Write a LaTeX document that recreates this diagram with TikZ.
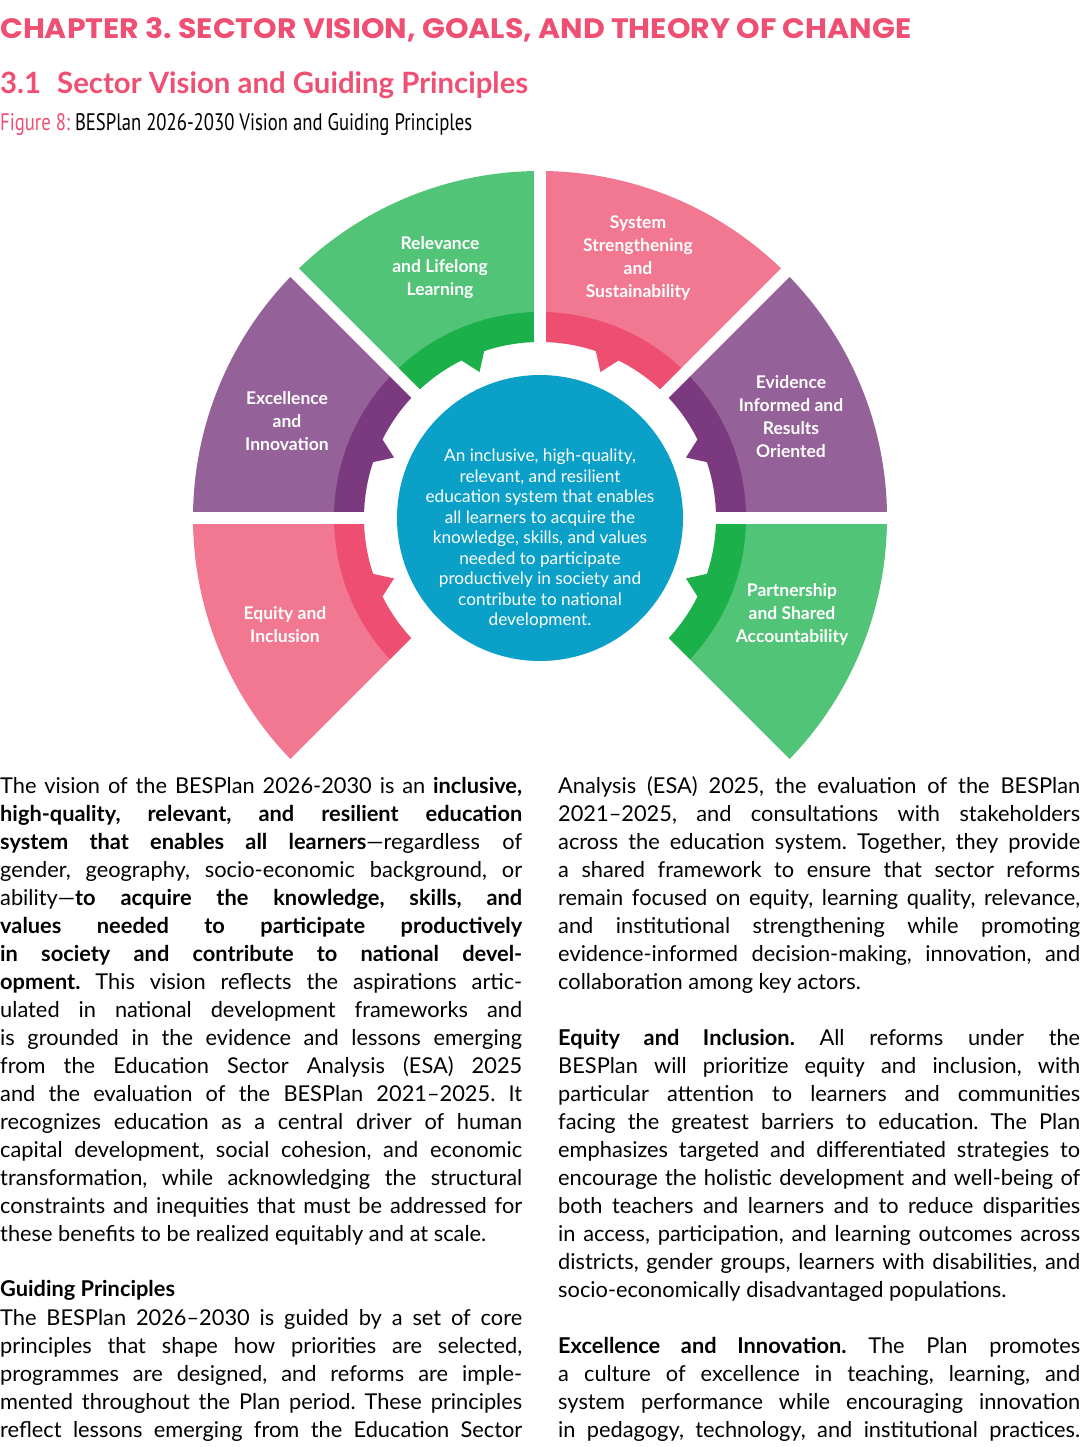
\documentclass[tikz,border=0pt]{standalone}
\usepackage{fontspec}
\usepackage{graphicx}
\setmainfont{Lato}
\newfontfamily\headfont{Poppins}
\newfontfamily\figfont{PT Sans}
\definecolor{Head}{HTML}{EF4F72}
\definecolor{GreenL}{HTML}{52C477}
\definecolor{GreenD}{HTML}{1BB04A}
\definecolor{PinkL}{HTML}{F27891}
\definecolor{PinkD}{HTML}{EE4E70}
\definecolor{PurpL}{HTML}{946198}
\definecolor{PurpD}{HTML}{7B3A80}
\definecolor{Vision}{HTML}{0AA0C8}
\frenchspacing
\newcommand\jline[1]{\makebox[522pt][s]{#1}}
% one principle: start angle, light colour, dark colour
\newcommand\petal[3]{%
  \fill[#2] (#1:205) arc[start angle=#1, end angle=#1+45, radius=205pt]
    -- ({#1+45}:347) arc[start angle=#1+45, end angle=#1, radius=347pt] -- cycle;
  \fill[#3] (#1:176) -- (#1:206) arc[start angle=#1, end angle=#1+45, radius=206pt]
    -- ({#1+45}:176) arc[start angle=#1+45, end angle=#1+26.5, radius=176pt]
    -- ({#1+22.5}:158) -- ({#1+18.5}:176)
    arc[start angle=#1+18.5, end angle=#1, radius=176pt] -- cycle;
}
\begin{document}
\begin{tikzpicture}[
  x=1pt,y=1pt,
  every node/.style={inner sep=0pt},
  label/.style={text=white,align=center,font=\fontsize{17.5}{23}\selectfont\bfseries},
  body/.style={anchor=base west,font=\fontsize{21.8}{28}\selectfont},
  ]
  \useasboundingbox (0,0) rectangle (1080,-1447);
  % headings
  \node[anchor=base west,text=Head] (chapter) at (0,-39)
    {\resizebox{911pt}{21pt}{\headfont\bfseries CHAPTER 3. SECTOR VISION, GOALS, AND THEORY OF CHANGE}};
  \node[anchor=base west,text=Head] (section) at (0,-94)
    {\resizebox{528pt}{!}{\bfseries 3.1\hspace{0.3em} Sector Vision and Guiding Principles}};
  \node[anchor=base west] (figure) at (0,-131)
    {\resizebox{472pt}{17pt}{\figfont\textcolor{Head}{Figure 8:} BESPlan 2026-2030 Vision and Guiding Principles}};
  % the wheel
  \begin{scope}[shift={(540,-518)}]
    \petal{-45}{GreenL}{GreenD}
    \petal{0}{PurpL}{PurpD}
    \petal{45}{PinkL}{PinkD}
    \petal{90}{GreenL}{GreenD}
    \petal{135}{PurpL}{PurpD}
    \petal{180}{PinkL}{PinkD}
    \foreach \a in {-45,0,...,225}
      \draw[white,line width=12pt] (0,0) -- (\a:360);
    \fill[Vision] (0,0) circle[radius=143pt];
  \end{scope}
  \node[label] (relevance) at (440,-268) {Relevance\\and Lifelong\\Learning};
  \node[label] (system) at (638,-258) {System\\Strengthening\\and\\Sustainability};
  \node[label] (excellence) at (287,-421) {Excellence\\and\\Innovation};
  \node[label] (evidence) at (791,-417) {Evidence\\Informed and\\Results\\Oriented};
  \node[label] (equity) at (285,-625) {Equity and\\Inclusion};
  \node[label] (partnership) at (792,-614) {Partnership\\and Shared\\Accountability};
  \node[text=white,align=center,font=\fontsize{17.2}{20.5}\selectfont] (vision) at (540,-539)
    {An inclusive, high-quality,\\relevant, and resilient\\education system that enables\\all learners to acquire the\\knowledge, skills, and values\\needed to participate\\productively in society and\\contribute to national\\development.};
  % left column
  \foreach \t [count=\i] in {
    {The vision of the BESPlan 2026-2030 is an \textbf{inclusive,}},
    {\textbf{high-quality, relevant, and resilient education}},
    {\textbf{system that enables all learners}---regardless of},
    {gender, geography, socio-economic background, or},
    {ability---\textbf{to acquire the knowledge, skills, and}},
    {\textbf{values needed to participate productively}},
    {\textbf{in society and contribute to national devel-}},
    {\textbf{opment.} This vision reflects the aspirations artic-},
    {ulated in national development frameworks and},
    {is grounded in the evidence and lessons emerging},
    {from the Education Sector Analysis (ESA) 2025},
    {and the evaluation of the BESPlan 2021--2025. It},
    {recognizes education as a central driver of human},
    {capital development, social cohesion, and economic},
    {transformation, while acknowledging the structural},
    {constraints and inequities that must be addressed for}}
    \node[body] at (0,{-793-28*(\i-1)}) {\jline{\t}};
  \node[body] (visionend) at (0,-1241) {these benefits to be realized equitably and at scale.};
  \node[body] (guiding) at (0,-1296) {\textbf{Guiding Principles}};
  \foreach \t [count=\i] in {
    {The BESPlan 2026--2030 is guided by a set of core},
    {principles that shape how priorities are selected,},
    {programmes are designed, and reforms are imple-},
    {mented throughout the Plan period. These principles},
    {reflect lessons emerging from the Education Sector}}
    \node[body] at (0,{-1325-28*(\i-1)}) {\jline{\t}};
  % right column
  \foreach \t [count=\i] in {
    {Analysis (ESA) 2025, the evaluation of the BESPlan},
    {2021--2025, and consultations with stakeholders},
    {across the education system. Together, they provide},
    {a shared framework to ensure that sector reforms},
    {remain focused on equity, learning quality, relevance,},
    {and institutional strengthening while promoting},
    {evidence-informed decision-making, innovation, and}}
    \node[body] at (558,{-793-28*(\i-1)}) {\jline{\t}};
  \node[body] (guidingend) at (558,-989) {collaboration among key actors.};
  \foreach \t [count=\i] in {
    {\textbf{Equity and Inclusion.} All reforms under the},
    {BESPlan will prioritize equity and inclusion, with},
    {particular attention to learners and communities},
    {facing the greatest barriers to education. The Plan},
    {emphasizes targeted and differentiated strategies to},
    {encourage the holistic development and well-being of},
    {both teachers and learners and to reduce disparities},
    {in access, participation, and learning outcomes across},
    {districts, gender groups, learners with disabilities, and}}
    \node[body] at (558,{-1045-28*(\i-1)}) {\jline{\t}};
  \node[body] (equityend) at (558,-1297) {socio-economically disadvantaged populations.};
  \foreach \t [count=\i] in {
    {\textbf{Excellence and Innovation.} The Plan promotes},
    {a culture of excellence in teaching, learning, and},
    {system performance while encouraging innovation},
    {in pedagogy, technology, and institutional practices.}}
    \node[body] at (558,{-1353-28*(\i-1)}) {\jline{\t}};
\end{tikzpicture}
\end{document}
